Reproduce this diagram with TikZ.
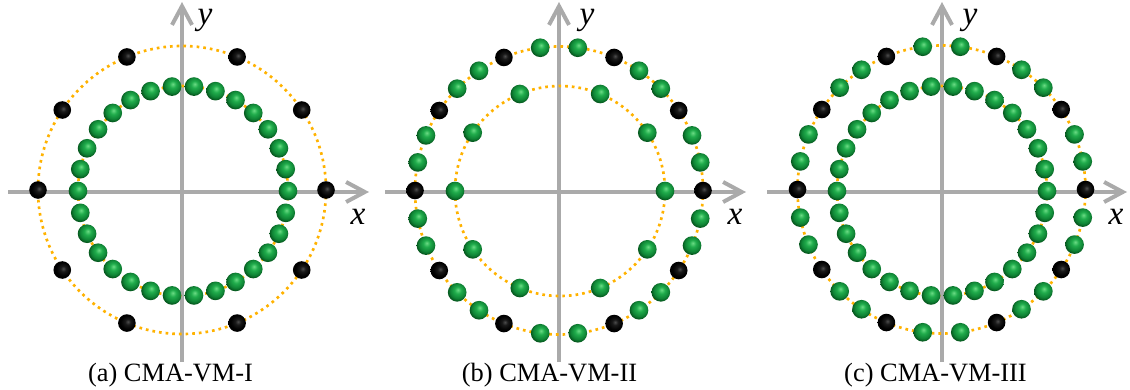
\documentclass[tikz,border=0pt]{standalone}
\usepackage{fontspec}
\setmainfont{Liberation Serif}
\usetikzlibrary{arrows.meta}
\definecolor{axisgray}{RGB}{170,170,170}
\definecolor{ringorange}{RGB}{255,178,0}
\pgfdeclareradialshading{gball}{\pgfpoint{2bp}{7bp}}{rgb(0bp)=(0.42,0.86,0.52); rgb(9bp)=(0.13,0.68,0.30); rgb(20bp)=(0.06,0.52,0.21); rgb(27bp)=(0.02,0.33,0.11); rgb(50bp)=(0.02,0.33,0.11)}
\pgfdeclareradialshading{bball}{\pgfpoint{3bp}{4bp}}{rgb(0bp)=(0.30,0.30,0.30); rgb(8bp)=(0.10,0.10,0.10); rgb(20bp)=(0,0,0); rgb(50bp)=(0,0,0)}
\tikzset{
  axisline/.style={draw=axisgray, line width=3pt, -{Straight Barb[length=14pt,width=15pt]}},
  ring/.style={draw=ringorange, line width=2pt, dash pattern=on 2pt off 3pt},
  gdot/.style={circle, minimum size=14pt, inner sep=0pt, shading=gball},
  bdot/.style={circle, minimum size=13.2pt, inner sep=0pt, shading=bball},
  axlabel/.style={font=\fontsize{25}{30}\selectfont\itshape, inner sep=0pt},
  caption/.style={font=\fontsize{19.8}{24}\selectfont, anchor=base, inner sep=0pt}
}
\begin{document}
\begin{tikzpicture}[x=0.75pt,y=-0.75pt]
\useasboundingbox (0,0) rectangle (1130,389);
% ---------- panel (a)
\coordinate (aL) at (8,192);   \coordinate (aR) at (369,192);
\coordinate (aB) at (182,362); \coordinate (aT) at (182,2);
\draw[axisline] (aL) -- (aR);
\draw[axisline] (aB) -- (aT);
\draw[ring] (182,190) circle[radius=144];
\draw[ring] (183,191) circle[radius=105];
\foreach \a [count=\i] in {0,33.75,67.5,112.5,146.25,180,213.75,247.5,292.5,326.25}
  \node[bdot] (ab\i) at ({182+144*cos(\a)},{190-144*sin(\a)}) {};
\foreach \k in {0,...,29}
  \node[gdot] (ag\k) at ({183+105*cos(12*\k)},{191-105*sin(12*\k)}) {};
\node[axlabel] (ax) at (358,217) {x};
\node[axlabel] (ay) at (205,20) {y};
\node[caption] (capa) at (170.5,381) {(a) CMA-VM-I};
% ---------- panel (b)
\coordinate (bL) at (385,192);   \coordinate (bR) at (746,192);
\coordinate (bB) at (559,362); \coordinate (bT) at (559,2);
\draw[axisline] (bL) -- (bR);
\draw[axisline] (bB) -- (bT);
\draw[ring] (559,190.5) circle[radius=144];
\draw[ring] (560,191) circle[radius=105];
\foreach \a [count=\i] in {0,33.75,67.5,112.5,146.25,180,213.75,247.5,292.5,326.25}
  \node[bdot] (bb\i) at ({559+144*cos(\a)},{190.5-144*sin(\a)}) {};
\foreach \a [count=\i] in {11.25,22.5,45,56.25,82.5,97.5,123.75,135,157.5,168.75,191.25,202.5,225,236.25,262.5,277.5,303.75,315,337.5,348.75}
  \node[gdot] (bg\i) at ({559+144*cos(\a)},{190.5-144*sin(\a)}) {};
\foreach \a [count=\i] in {0,33.75,67.5,112.5,146.25,180,213.75,247.5,292.5,326.25}
  \node[gdot] (bi\i) at ({560+105*cos(\a)},{191-105*sin(\a)}) {};
\node[axlabel] (bx) at (735,217) {x};
\node[axlabel] (by) at (587,20) {y};
\node[caption] (capb) at (549.5,381) {(b) CMA-VM-II};
% ---------- panel (c)
\coordinate (cL) at (767,192);   \coordinate (cR) at (1127,192);
\coordinate (cB) at (942,362); \coordinate (cT) at (942,2);
\draw[axisline] (cL) -- (cR);
\draw[axisline] (cB) -- (cT);
\draw[ring] (941.5,189.5) circle[radius=144];
\draw[ring] (942,191) circle[radius=105];
\foreach \a [count=\i] in {0,33.75,67.5,112.5,146.25,180,213.75,247.5,292.5,326.25}
  \node[bdot] (cb\i) at ({941.5+144*cos(\a)},{189.5-144*sin(\a)}) {};
\foreach \a [count=\i] in {11.25,22.5,45,56.25,82.5,97.5,123.75,135,157.5,168.75,191.25,202.5,225,236.25,262.5,277.5,303.75,315,337.5,348.75}
  \node[gdot] (cg\i) at ({941.5+144*cos(\a)},{189.5-144*sin(\a)}) {};
\foreach \k in {0,...,29}
  \node[gdot] (ci\k) at ({942+105*cos(12*\k)},{191-105*sin(12*\k)}) {};
\node[axlabel] (cx) at (1116,217) {x};
\node[axlabel] (cy) at (970,20) {y};
\node[caption] (capc) at (935.5,381) {(c) CMA-VM-III};
\end{tikzpicture}
\end{document}
